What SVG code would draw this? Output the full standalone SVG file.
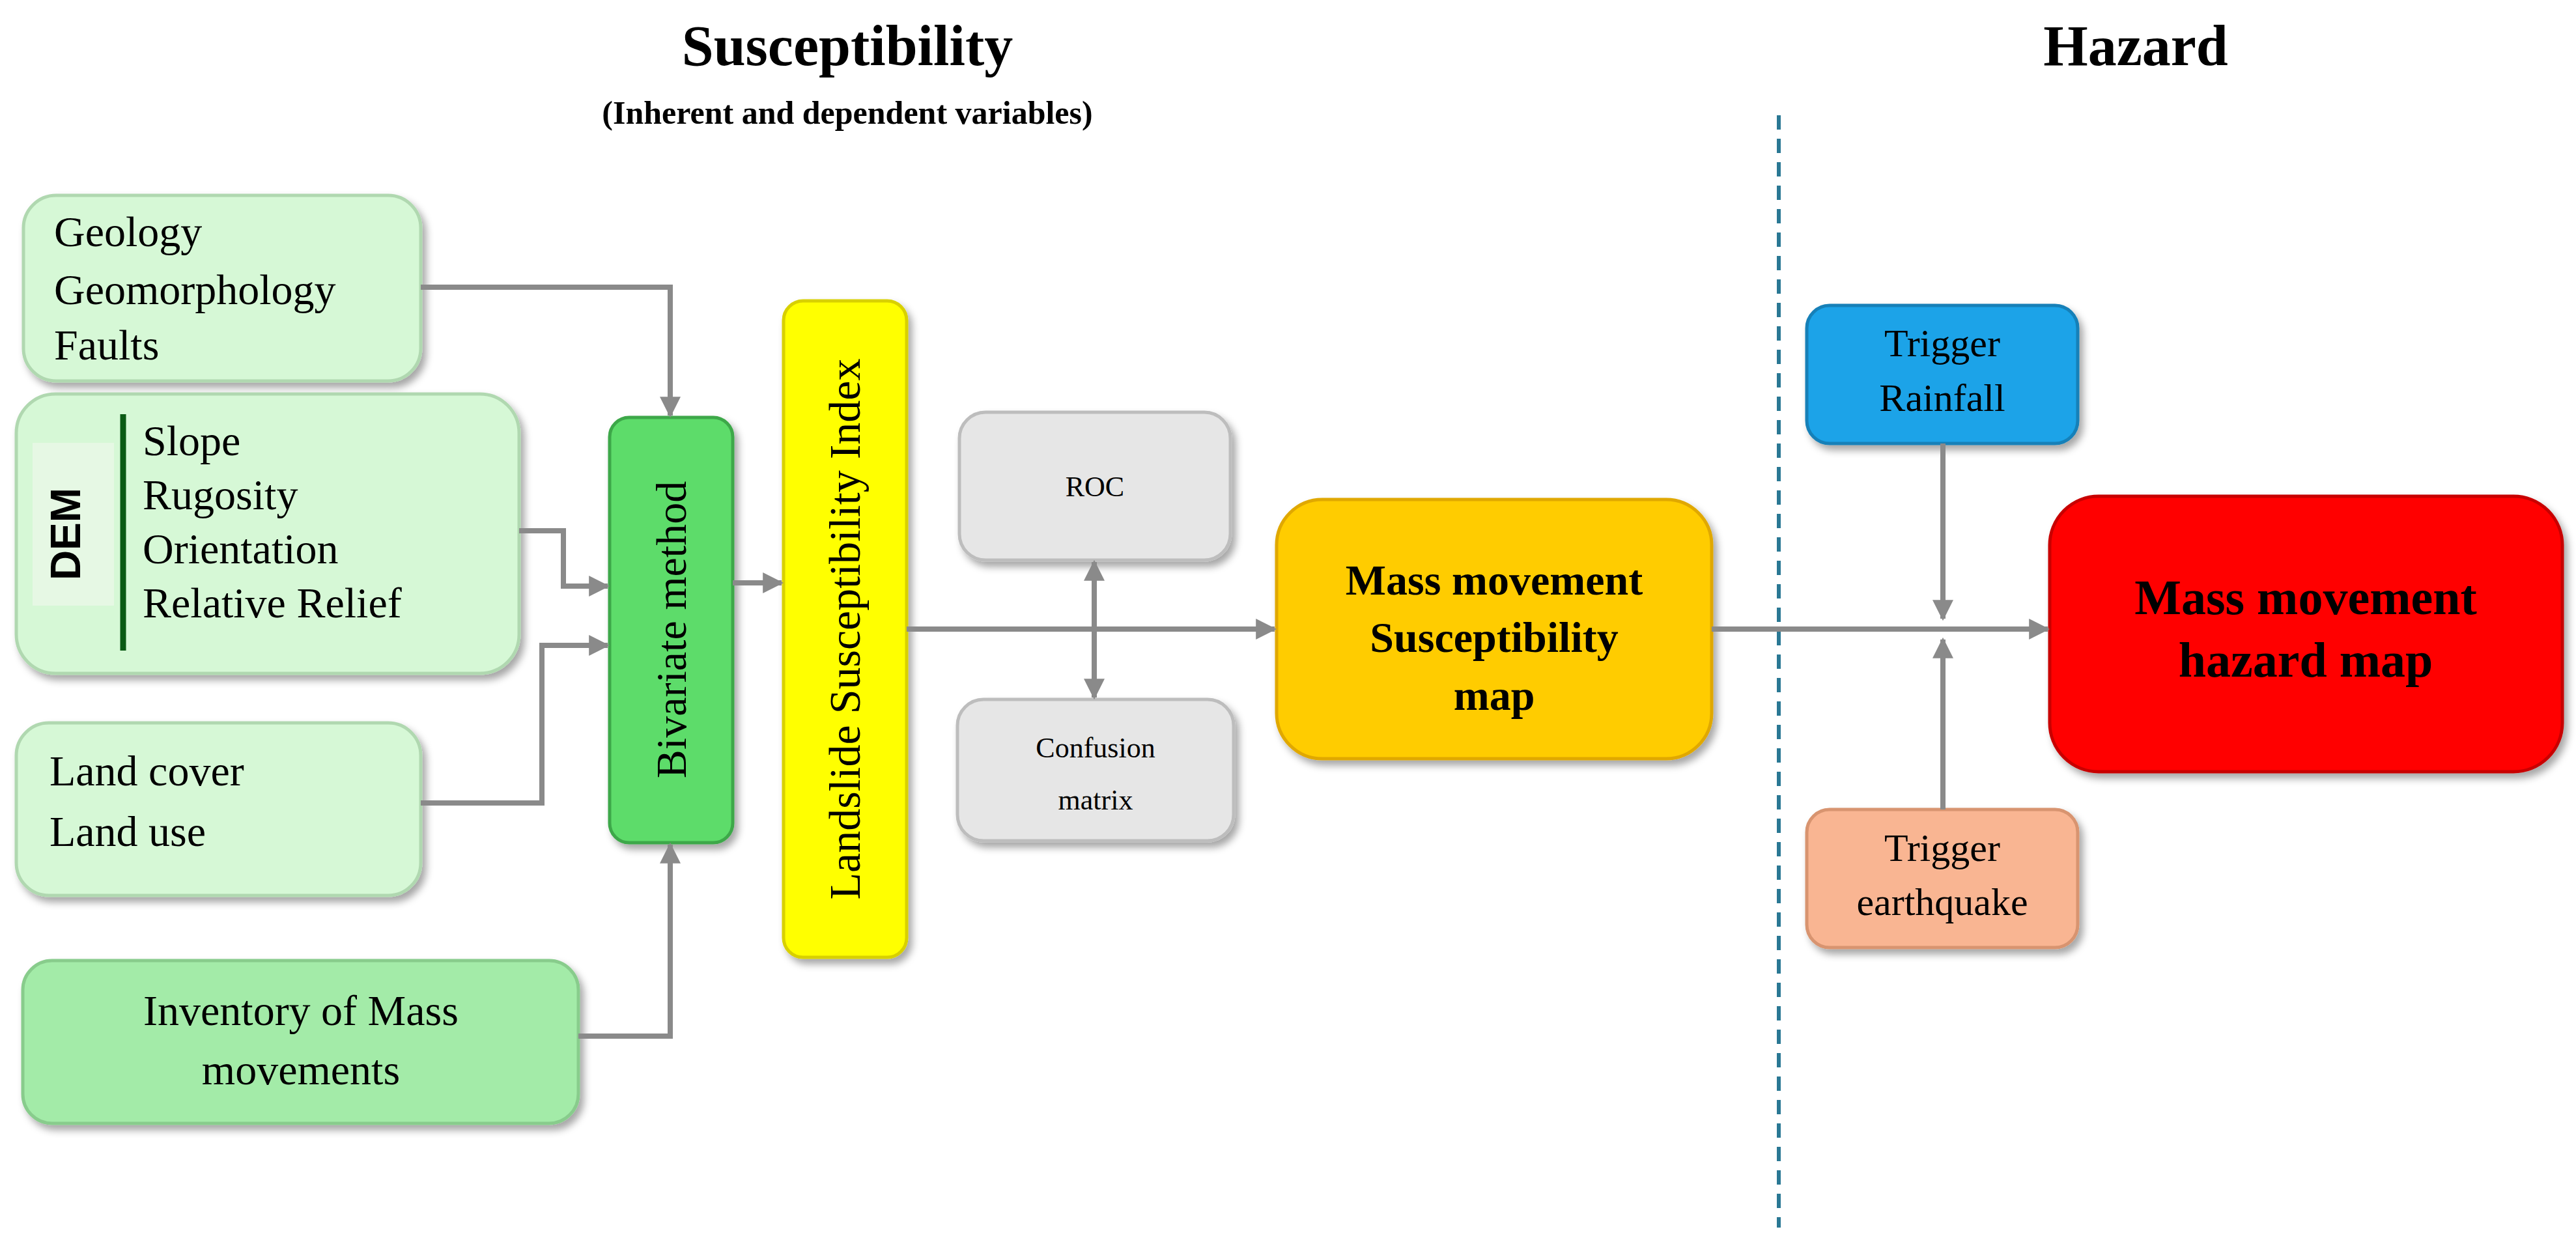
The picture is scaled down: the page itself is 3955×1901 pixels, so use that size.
<svg xmlns="http://www.w3.org/2000/svg" width="3955" height="1901" viewBox="0 0 3955 1901">
<defs>
<filter id="sh" x="-10%" y="-10%" width="125%" height="130%"><feDropShadow dx="6" dy="8" stdDeviation="6" flood-color="#000" flood-opacity="0.35"/></filter>
<marker id="ah" viewBox="0 0 10 10" refX="9" refY="5" markerWidth="4" markerHeight="4" orient="auto-start-reverse"><path d="M0,0 L10,5 L0,10 z" fill="#8a8a8a"/></marker>
<style>
.t{font-family:"Liberation Serif","Times New Roman",serif;fill:#000}
.b{filter:url(#sh);stroke-width:5}
.c{fill:none;stroke:#8a8a8a;stroke-width:8}
</style>
</defs>
<rect width="3955" height="1901" fill="#fff"/>
<g id="titles">
<text class="t" x="1301" y="100" font-size="88" font-weight="bold" text-anchor="middle">Susceptibility</text>
<text class="t" x="1301" y="190" font-size="50" font-weight="bold" text-anchor="middle">(Inherent and dependent variables)</text>
<text class="t" x="3279" y="100" font-size="88" font-weight="bold" text-anchor="middle">Hazard</text>
<line x1="2731" y1="177" x2="2731" y2="1885" stroke="#2a7894" stroke-width="6" stroke-dasharray="22,14"/>
</g>
<g id="geology"><rect class="b" x="36" y="300" width="610" height="285" rx="50" fill="#d6f8d6" stroke="#b0d8b0"/>
<text class="t" font-size="66"><tspan x="83" y="378">Geology</tspan><tspan x="83" y="467">Geomorphology</tspan><tspan x="83" y="552">Faults</tspan></text></g>
<g id="dem"><rect class="b" x="25" y="605" width="772" height="429" rx="60" fill="#d6f8d6" stroke="#b0d8b0"/>
<rect x="50" y="680" width="125" height="250" fill="#e6f8e4"/>
<text x="101" y="820" font-family="Liberation Sans,Arial,sans-serif" font-weight="bold" font-size="64" text-anchor="middle" dominant-baseline="central" transform="rotate(-90 101 820)">DEM</text>
<line x1="189" y1="636" x2="189" y2="999" stroke="#0a5a14" stroke-width="9"/>
<text class="t" font-size="66"><tspan x="219" y="699">Slope</tspan><tspan x="219" y="782">Rugosity</tspan><tspan x="219" y="865">Orientation</tspan><tspan x="219" y="948">Relative Relief</tspan></text></g>
<g id="landcover"><rect class="b" x="25" y="1110" width="621" height="265" rx="50" fill="#d6f8d6" stroke="#b0d8b0"/>
<text class="t" font-size="66"><tspan x="76" y="1206">Land cover</tspan><tspan x="76" y="1299">Land use</tspan></text></g>
<g id="inventory"><rect class="b" x="35" y="1475" width="853" height="250" rx="45" fill="#a3eba8" stroke="#88cc8c"/>
<text class="t" font-size="66" text-anchor="middle"><tspan x="462" y="1574">Inventory of Mass</tspan><tspan x="462" y="1665">movements</tspan></text></g>
<g id="bivariate"><rect class="b" x="936" y="641" width="189" height="653" rx="30" fill="#5ddc6a" stroke="#3ea84a"/>
<text class="t" font-size="66" text-anchor="middle" dominant-baseline="central" transform="rotate(-90 1030 967)" x="1030" y="967">Bivariate method</text></g>
<g id="lsi"><rect class="b" x="1203" y="462" width="189" height="1008" rx="30" fill="#ffff00" stroke="#d8d000"/>
<text class="t" font-size="68" text-anchor="middle" dominant-baseline="central" transform="rotate(-90 1297 966)" x="1297" y="966">Landslide Susceptibility Index</text></g>
<g id="roc"><rect class="b" x="1473" y="633" width="416" height="227" rx="40" fill="#e6e6e6" stroke="#bdbdbd"/>
<text class="t" font-size="44" text-anchor="middle" x="1681" y="762">ROC</text></g>
<g id="confusion"><rect class="b" x="1470" y="1074" width="424" height="217" rx="40" fill="#e6e6e6" stroke="#bdbdbd"/>
<text class="t" font-size="44" text-anchor="middle"><tspan x="1682" y="1163">Confusion</tspan><tspan x="1682" y="1243">matrix</tspan></text></g>
<g id="msmap"><rect class="b" x="1960" y="767" width="668" height="398" rx="70" fill="#ffcc00" stroke="#e0a800"/>
<text class="t" font-size="66" font-weight="bold" text-anchor="middle"><tspan x="2294" y="913">Mass movement</tspan><tspan x="2294" y="1001">Susceptibility</tspan><tspan x="2294" y="1090">map</tspan></text></g>
<g id="rainfall"><rect class="b" x="2774" y="469" width="416" height="212" rx="35" fill="#1aa3e8" stroke="#1580b8"/>
<text class="t" font-size="60" text-anchor="middle"><tspan x="2982" y="547">Trigger</tspan><tspan x="2982" y="631">Rainfall</tspan></text></g>
<g id="earthquake"><rect class="b" x="2774" y="1243" width="416" height="212" rx="35" fill="#f9b592" stroke="#d8946f"/>
<text class="t" font-size="60" text-anchor="middle"><tspan x="2982" y="1322">Trigger</tspan><tspan x="2982" y="1405">earthquake</tspan></text></g>
<g id="hazardmap"><rect class="b" x="3147" y="762" width="787" height="423" rx="75" fill="#ff0000" stroke="#c80000"/>
<text class="t" font-size="76" font-weight="bold" text-anchor="middle"><tspan x="3540" y="943">Mass movement</tspan><tspan x="3540" y="1039">hazard map</tspan></text></g>
<g id="connectors">
<polyline class="c" points="646,441 1029,441 1029,638" marker-end="url(#ah)"/>
<polyline class="c" points="797,815 865,815 865,900 933,900" marker-end="url(#ah)"/>
<polyline class="c" points="646,1233 832,1233 832,991 933,991" marker-end="url(#ah)"/>
<polyline class="c" points="888,1591 1029,1591 1029,1297" marker-end="url(#ah)"/>
<line class="c" x1="1125" y1="895" x2="1200" y2="895" marker-end="url(#ah)"/>
<line class="c" x1="1392" y1="966" x2="1957" y2="966" marker-end="url(#ah)"/>
<line class="c" x1="1680" y1="863" x2="1680" y2="1071" marker-start="url(#ah)" marker-end="url(#ah)"/>
<line class="c" x1="2628" y1="966" x2="3144" y2="966" marker-end="url(#ah)"/>
<line class="c" x1="2983" y1="681" x2="2983" y2="950" marker-end="url(#ah)"/>
<line class="c" x1="2983" y1="1243" x2="2983" y2="982" marker-end="url(#ah)"/>
</g>
</svg>
